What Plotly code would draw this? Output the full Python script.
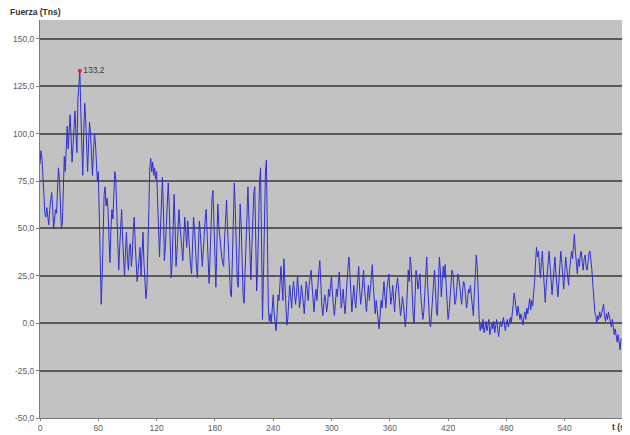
import plotly.graph_objects as go

# Sampling step of the force record (seconds)
SAMPLE_STEP_S = 1

# Force (Tns), one value per second, t = 0 .. 598 s
fuerza = [
    84, 91, 87, 80, 68, 58, 56, 61, 55, 52,
    60, 66, 69, 62, 50, 55, 60, 58, 72, 82,
    76, 60, 50, 53, 70, 88, 80, 96, 104, 92,
    100, 110, 98, 85, 94, 105, 112, 100, 90, 118,
    128, 133.2, 112, 90, 78, 100, 116, 108, 92, 80,
    95, 106, 100, 85, 78, 90, 100, 96, 84, 75,
    80, 50, 20, 10, 25, 50, 68, 72, 62, 66,
    60, 45, 32, 50, 60, 55, 70, 80, 76, 58,
    38, 28, 40, 55, 60, 45, 30, 25, 38, 48,
    35, 28, 40, 42, 30, 36, 50, 56, 42, 30,
    22, 28, 35, 40, 25, 38, 48, 32, 20, 13,
    18, 35, 60, 82, 87, 80, 85, 78, 82, 76,
    80, 65, 42, 35, 50, 68, 77, 60, 33, 40,
    55, 66, 74, 62, 40, 24, 32, 50, 68, 52,
    30, 38, 50, 60, 52, 44, 36, 33, 45, 56,
    48, 40, 54, 45, 35, 30, 26, 42, 56, 50,
    38, 30, 24, 40, 54, 48, 38, 30, 38, 48,
    55, 60, 45, 30, 21, 35, 55, 66, 70, 50,
    30, 19, 40, 63, 52, 45, 40, 35, 32, 30,
    45, 60, 65, 50, 35, 22, 16, 14, 35, 55,
    74, 60, 40, 22, 19, 40, 63, 52, 30, 15,
    10.5, 25, 45, 62, 72, 55, 32, 23, 40, 60,
    68, 72, 40, 17, 30, 55, 75, 82, 45, 2,
    25, 60, 80, 86, 50, 8, 1, 5, 0, 8,
    15, 5, -2, -4, 5, 15, 12, 22, 30, 20,
    12, 34, 25, 10, -1, 2, 12, 20, 14, 8,
    18, 22, 15, 10, 16, 25, 18, 8, 12, 20,
    16, 10, 5, 14, 22, 18, 12, 20, 24, 28,
    20, 10, 6, 14, 18, 12, 22, 28, 33, 20,
    10, 4, 8, 15, 12, 6, 10, 18, 14, 20,
    25, 15, 8, 4, 10, 18, 14, 22, 27, 18,
    8, 12, 18, 10, 5, 14, 24, 30, 35, 24,
    12, 6, 14, 20, 12, 8, 16, 26, 30, 18,
    10, 14, 20, 28, 18, 10, 6, 14, 20, 12,
    18, 28, 31, 20, 10, 5, 12, 6, 0, -3,
    4, 12, 8, 16, 22, 14, 8, 18, 24, 26,
    18, 10, 14, 20, 12, 6, 16, 22, 24, 18,
    10, 4, 8, 14, 10, 2, -2, 5, 18, 28,
    22, 35, 30, 15, 4, 0, 12, 28, 24, 18,
    22, 26, 14, 6, 2, 6, 18, 30, 35, 20,
    6, 0, -2, 5, 16, 22, 28, 18, 6, 4,
    20, 35, 28, 14, 22, 30, 24, 31, 20, 8,
    2, 6, 14, 24, 28, 26, 16, 10, 12, 20,
    26, 24, 18, 14, 10, 18, 22, 20, 14, 8,
    12, 18, 16, 20, 14, 8, 4, 15, 28, 36,
    30, 12, 2, -4, 0, -3, 2, -5, -2, 1,
    -4, -1, 2, -6, -2, 0, -3, 1, -5, -1,
    2, -3, -7, -2, 1, -2, 0, 3, -1, -4,
    0, 2, -2, 1, 3, 0, 4, 10, 16, 12,
    8, 4, 9, 6, 2, 5, 1, -1, 3, 6,
    2, 8, 5, 10, 13, 7, 12, 9, 15, 22,
    32, 40, 35, 38, 30, 24, 32, 38, 28, 18,
    11, 20, 28, 36, 38, 30, 20, 15, 22, 30,
    35, 26, 18, 14, 22, 30, 38, 32, 24, 18,
    26, 35, 30, 22, 20, 28, 36, 38, 34, 40,
    47, 38, 30, 26, 34, 30, 36, 38, 32, 28,
    34, 36, 30, 28, 32, 37, 38, 34, 28, 20,
    12, 6, 4, 0, 4, 2, 6, 3, 5, 8,
    10, 4, 1, 5, 2, 6, 3, 0, -2, 2,
    -4, -6, -3, -8, -10, -6, -12, -14, -8,
]
tiempo = [i * SAMPLE_STEP_S for i in range(len(fuerza))]

# Highlighted maximum
peak_t = [41]
peak_value = [133.2]
peak_label = ["133,2"]

# Axis ticks
x_tickvals = [0, 60, 120, 180, 240, 300, 360, 420, 480, 540]
x_ticktext = ["0", "60", "120", "180", "240", "300", "360", "420", "480", "540"]
y_tickvals = [-50, -25, 0, 25, 50, 75, 100, 125, 150]
y_ticktext = ["-50,0", "-25,0", "0,0", "25,0", "50,0", "75,0", "100,0", "125,0", "150,0"]

FONT = "Liberation Sans, Arial, sans-serif"

fig = go.Figure()
fig.add_trace(go.Scatter(
    x=tiempo, y=fuerza, mode="lines",
    line=dict(color="#2f2fd2", width=1),
    hoverinfo="skip",
))
fig.add_trace(go.Scatter(
    x=peak_t, y=peak_value, mode="markers+text",
    marker=dict(color="#e82020", size=4),
    text=peak_label, textposition="middle right",
    textfont=dict(family=FONT, size=8.5, color="#404040"),
))

# The page body has an 8px default margin, so the figure is sized to fill the
# visible 630x435 window from that offset.
fig.update_layout(
    width=622, height=427,
    margin=dict(l=32, r=7, t=12, b=17, autoexpand=False),
    paper_bgcolor="white",
    plot_bgcolor="#c2c2c2",
    showlegend=False,
    font=dict(family=FONT, size=8.5, color="#555555"),
    xaxis=dict(
        range=[0, 600], tickvals=x_tickvals, ticktext=x_ticktext,
        automargin=False,
        showgrid=False, zeroline=False,
        showline=True, linecolor="#7a7a7a", linewidth=1,
        ticks="outside", ticklen=2, tickcolor="#7a7a7a",
        tickfont=dict(family=FONT, size=8.5, color="#606060"),
    ),
    yaxis=dict(
        range=[-50, 160], tickvals=y_tickvals, ticktext=y_ticktext,
        automargin=False,
        showgrid=True, gridcolor="#5a5a5a", gridwidth=1.5,
        zeroline=False,
        showline=True, linecolor="#7a7a7a", linewidth=1,
        ticks="outside", ticklen=3, tickcolor="#7a7a7a",
        tickfont=dict(family=FONT, size=8.5, color="#606060"),
    ),
    annotations=[
        dict(text="<b>Fuerza (Tns)</b>", xref="paper", yref="paper",
             x=-0.055, y=1, xanchor="left", yanchor="bottom", yshift=1,
             showarrow=False, font=dict(family=FONT, size=8.5, color="#333333")),
        dict(text="<b>t (s)</b>", xref="paper", yref="paper",
             x=0.978, y=0, xanchor="left", yanchor="top", yshift=-2,
             showarrow=False, font=dict(family=FONT, size=8.5, color="#333333")),
    ],
)

fig.write_html("out.html")
